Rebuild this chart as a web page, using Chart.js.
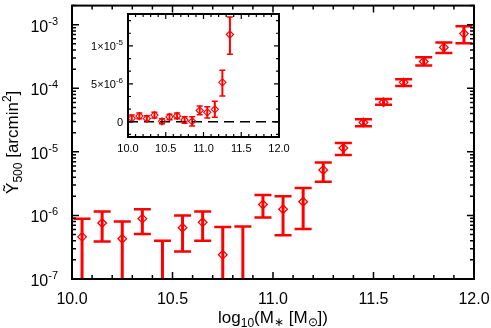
<!DOCTYPE html>
<html>
<head>
<meta charset="utf-8">
<script src="https://cdn.jsdelivr.net/npm/chart.js@4/dist/chart.umd.min.js"></script>
<style>
html, body { margin: 0; padding: 0; background: #fff; }
#wrap { position: relative; width: 491px; height: 328px; }
canvas { position: absolute; left: 0; top: 0; }
</style>
</head>
<body>
<div id="wrap">
  <canvas id="mainChart" width="491" height="328"></canvas>
  <canvas id="insetChart" width="491" height="328"></canvas>
</div>
<script>
// log10 stellar mass bin centres
const massBins = [10.05, 10.15, 10.25, 10.35, 10.45, 10.55, 10.65, 10.75, 10.85, 10.95,
                  11.05, 11.15, 11.25, 11.35, 11.45, 11.55, 11.65, 11.75, 11.85, 11.95];
// Y500 values and upper / lower ends of the error bars (arcmin^2)
const y500   = [4.6e-7, 7.6e-7, 4.3e-7, 8.9e-7, 7e-8, 6.4e-7, 7.8e-7, 2.4e-7, 6e-8, 1.49e-6,
                1.25e-6, 1.64e-6, 5.2e-6, 1.15e-5, 2.9e-5, 6.05e-5, 1.24e-4, 2.64e-4, 4.4e-4, 7.25e-4];
const y500Hi = [8.9e-7, 1.15e-6, 8.0e-7, 1.25e-6, 4.0e-7, 1.0e-6, 1.15e-6, 6.6e-7, 6.7e-7, 2.09e-6,
                2.0e-6, 2.7e-6, 6.8e-6, 1.38e-5, 3.27e-5, 6.8e-5, 1.39e-4, 3.08e-4, 5.25e-4, 9.5e-4];
const y500Lo = [3e-8, 3.9e-7, 6e-8, 5.1e-7, -2.6e-7, 2.7e-7, 4.0e-7, -1.8e-7, -5.5e-7, 9.3e-7,
                4.9e-7, 6.1e-7, 3.4e-6, 8.9e-6, 2.52e-5, 5.5e-5, 1.09e-4, 2.29e-4, 3.6e-4, 5.1e-4];

const xTickLabels = ["10.0", "10.5", "11.0", "11.5", "12.0"];
const mainYTicks = [-7, -6, -5, -4, -3];          // decades labelled as 10^n
const insetYTicks = [0, 5e-6, 1e-5];
const insetYLabels = [["0", ""], ["5\u00d710", "-6"], ["1\u00d710", "-5"]];

const RED = "#ff0000";
const FONT = "'Liberation Sans', Arial, sans-serif";

const points = massBins.map((m, i) => ({x: m, y: y500[i]}));

// draw a run of text pieces (size, vertical shift) one after another
function richText(ctx, parts, x, y, align) {
  let total = 0;
  parts.forEach(p => { ctx.font = p.size + "px " + FONT; total += ctx.measureText(p.t).width; });
  let cx = align === "right" ? x - total : align === "center" ? x - total / 2 : x;
  ctx.textAlign = "left";
  ctx.textBaseline = "alphabetic";
  parts.forEach(p => {
    ctx.font = p.size + "px " + FONT;
    ctx.fillText(p.t, cx, y + (p.dy || 0));
    cx += ctx.measureText(p.t).width;
  });
}

function errorBars(barW, capW, capHalf) {
  return {
    id: "errorBars",
    beforeDatasetsDraw(chart) {
      const {ctx, chartArea: a, scales: {x, y}} = chart;
      const isLog = y.type === "logarithmic";
      ctx.save();
      ctx.beginPath();
      ctx.rect(a.left, a.top, a.right - a.left, a.bottom - a.top);
      ctx.clip();
      ctx.strokeStyle = RED;
      massBins.forEach((m, i) => {
        const px = x.getPixelForValue(m);
        const top = y.getPixelForValue(y500Hi[i]);
        const lowOk = !isLog || y500Lo[i] > 0;
        const bot = lowOk ? y.getPixelForValue(y500Lo[i]) : a.bottom + 20;
        ctx.lineWidth = barW;
        ctx.beginPath();
        ctx.moveTo(px, top);
        ctx.lineTo(px, bot);
        ctx.stroke();
        ctx.lineWidth = capW;
        ctx.beginPath();
        ctx.moveTo(px - capHalf, top); ctx.lineTo(px + capHalf, top);
        if (lowOk) { ctx.moveTo(px - capHalf, bot); ctx.lineTo(px + capHalf, bot); }
        ctx.stroke();
      });
      ctx.restore();
    }
  };
}

const mainFrame = {
  id: "mainFrame",
  afterDraw(chart) {
    const {ctx, chartArea: a, scales: {x, y}} = chart;
    ctx.save();
    ctx.strokeStyle = "#000";
    ctx.fillStyle = "#000";
    ctx.lineWidth = 1.5;
    ctx.beginPath();
    for (let k = 0; k <= 20; k++) {
      const px = x.getPixelForValue(10 + k / 10);
      const len = k % 5 === 0 ? 7 : 4;
      ctx.moveTo(px, a.bottom); ctx.lineTo(px, a.bottom - len);
      ctx.moveTo(px, a.top); ctx.lineTo(px, a.top + len);
    }
    for (let d = -7; d <= -3; d++) {
      for (let m = 1; m <= 9; m++) {
        const v = m * Math.pow(10, d);
        if (v < y.min || v > y.max) continue;
        const py = y.getPixelForValue(v);
        const len = m === 1 ? 7 : 4;
        ctx.moveTo(a.left, py); ctx.lineTo(a.left + len, py);
        ctx.moveTo(a.right, py); ctx.lineTo(a.right - len, py);
      }
    }
    ctx.stroke();
    ctx.lineWidth = 2;
    ctx.strokeRect(a.left, a.top, a.right - a.left, a.bottom - a.top);

    xTickLabels.forEach(t => {
      richText(ctx, [{t: t, size: 16}], x.getPixelForValue(parseFloat(t)), 304, "center");
    });
    mainYTicks.forEach(n => {
      const py = y.getPixelForValue(Math.pow(10, n));
      richText(ctx, [{t: "10", size: 16}, {t: "-" + (-n), size: 11, dy: -7}], 58, py + 7, "right");
    });

    richText(ctx, [{t: "log", size: 17}, {t: "10", size: 12, dy: 4}, {t: "(M", size: 17},
                   {t: "\u2217", size: 12, dy: 3}, {t: " [M", size: 17}, {t: "\u2299", size: 12, dy: 3},
                   {t: "])", size: 17}], (a.left + a.right) / 2, 323, "center");
    ctx.translate(18, (a.top + a.bottom) / 2);
    ctx.rotate(-Math.PI / 2);
    richText(ctx, [{t: "\u1ef8", size: 17}, {t: "500", size: 12, dy: 4}, {t: " [arcmin", size: 17},
                   {t: "2", size: 12, dy: -7}, {t: "]", size: 17}], 0, 0, "center");
    ctx.restore();
  }
};

const insetFrame = {
  id: "insetFrame",
  beforeDatasetsDraw(chart) {
    const {ctx, chartArea: a, scales: {y}} = chart;
    const py = y.getPixelForValue(0);
    ctx.save();
    ctx.strokeStyle = "#000";
    ctx.lineWidth = 1.5;
    ctx.setLineDash([10, 6]);
    ctx.beginPath();
    ctx.moveTo(a.left, py); ctx.lineTo(a.right, py);
    ctx.stroke();
    ctx.restore();
  },
  afterDraw(chart) {
    const {ctx, chartArea: a, scales: {x, y}} = chart;
    ctx.save();
    ctx.strokeStyle = "#000";
    ctx.fillStyle = "#000";
    ctx.lineWidth = 1.2;
    ctx.beginPath();
    for (let k = 0; k <= 20; k++) {
      const px = x.getPixelForValue(10 + k / 10);
      const len = k % 5 === 0 ? 5 : 3;
      ctx.moveTo(px, a.bottom); ctx.lineTo(px, a.bottom - len);
      ctx.moveTo(px, a.top); ctx.lineTo(px, a.top + len);
    }
    for (let k = -1; k <= 8; k++) {
      const py = y.getPixelForValue(k * 5e-6 / 3);
      const len = k % 3 === 0 ? 5 : 3;
      ctx.moveTo(a.left, py); ctx.lineTo(a.left + len, py);
      ctx.moveTo(a.right, py); ctx.lineTo(a.right - len, py);
    }
    ctx.stroke();
    ctx.lineWidth = 2;
    ctx.strokeRect(a.left, a.top, a.right - a.left, a.bottom - a.top);

    xTickLabels.forEach(t => {
      richText(ctx, [{t: t, size: 11}], x.getPixelForValue(parseFloat(t)), 152, "center");
    });
    insetYTicks.forEach((v, i) => {
      const py = y.getPixelForValue(v);
      richText(ctx, [{t: insetYLabels[i][0], size: 11}, {t: insetYLabels[i][1], size: 8, dy: -5}],
               123, py + 4, "right");
    });
    ctx.restore();
  }
};

new Chart("mainChart", {
  type: "scatter",
  data: {
    datasets: [{
      data: points,
      pointStyle: "rectRot",
      pointRadius: 4.3,
      borderColor: RED,
      backgroundColor: "rgba(255,255,255,0)",
      pointBorderWidth: 1.3,
      clip: 0
    }]
  },
  options: {
    responsive: false,
    animation: false,
    devicePixelRatio: 1,
    layout: {padding: {left: 72, top: 1, right: 17, bottom: 49}},
    plugins: {legend: {display: false}, tooltip: {enabled: false}},
    scales: {
      x: {type: "linear", min: 10, max: 12, display: false},
      y: {type: "logarithmic", min: 1e-7, max: 2e-3, display: false}
    }
  },
  plugins: [errorBars(3, 2.5, 8.5), mainFrame]
});

new Chart("insetChart", {
  type: "scatter",
  data: {
    datasets: [{
      data: points,
      pointStyle: "rectRot",
      pointRadius: 3.6,
      borderColor: RED,
      backgroundColor: "rgba(255,255,255,0)",
      pointBorderWidth: 1.1,
      clip: 0
    }]
  },
  options: {
    responsive: false,
    animation: false,
    devicePixelRatio: 1,
    layout: {padding: {left: 128, top: 14, right: 212, bottom: 191}},
    plugins: {legend: {display: false}, tooltip: {enabled: false}},
    scales: {
      x: {type: "linear", min: 10, max: 12, display: false},
      y: {type: "linear", min: -2e-6, max: 1.42e-5, display: false}
    }
  },
  plugins: [errorBars(2, 1.5, 3), insetFrame]
});
</script>
</body>
</html>
